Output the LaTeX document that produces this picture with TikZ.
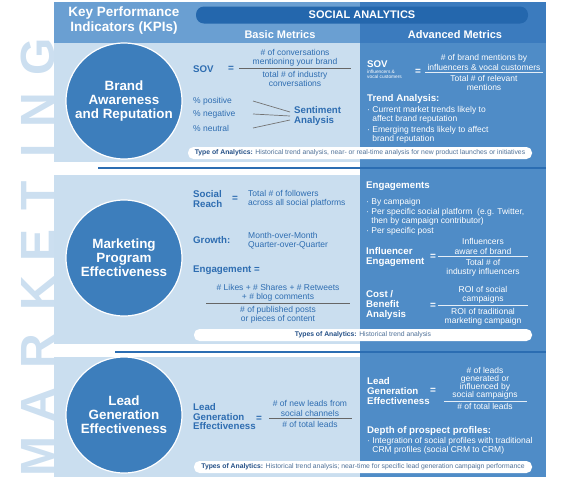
\documentclass[tikz,border=0pt]{standalone}
\usepackage{fontspec}
\setmainfont{Liberation Sans}
\usepackage{xcolor}
\usepackage{tikz}
\usetikzlibrary{positioning}

\definecolor{hdrlight}{HTML}{6A9FD2}
\definecolor{hdrdark}{HTML}{3B7BBE}
\definecolor{barblue}{HTML}{2467AD}
\definecolor{rowlight}{HTML}{CADEEF}
\definecolor{coldark}{HTML}{4F8CC7}
\definecolor{circblue}{HTML}{3D7EBC}
\definecolor{txtblue}{HTML}{2E6DB1}
\definecolor{ltrblue}{HTML}{CCDFF0}
\definecolor{sepblue}{HTML}{2B6DB2}
\definecolor{ftlabel}{HTML}{234F86}
\definecolor{fttext}{HTML}{4F7198}

\begin{document}
\begin{tikzpicture}[x=1pt, y=-1pt,
          every node/.style={inner sep=0pt},
          kpi/.style={circle, fill=circblue, draw=white, line width=1.2pt, minimum size=116pt, text=white, align=center, font=\bfseries\fontsize{13.4}{14}\selectfont},
          hdr/.style={text=white, align=center, font=\bfseries\fontsize{11}{13}\selectfont},
          blab/.style={anchor=west, align=left, text=txtblue, font=\bfseries\fontsize{9.7}{9.5}\selectfont},
          btxt/.style={text=txtblue, align=center, font=\fontsize{8.5}{9.3}\selectfont},
          alab/.style={blab, text=white},
          atxt/.style={btxt, text=white},
          eqs/.style={text=txtblue, font=\bfseries\fontsize{10}{10}\selectfont},
          aeqs/.style={eqs, text=white},
          fbar/.style={fill=black!60, minimum height=0.9pt},
          afbar/.style={fbar, fill=white!85!coldark},
          footbox/.style={fill=white, rounded corners=5.5pt, minimum height=12pt, text=fttext, font=\fontsize{6.8}{7}\selectfont},
          fanline/.style={draw=black!55, line width=0.7pt},
          sepline/.style={draw=sepblue, line width=1.4pt},
          bigletter/.style={rotate=90, text=ltrblue, font=\bfseries\fontsize{48}{48}\selectfont},
        ]
          \useasboundingbox (0,0) rectangle (571,480);

          %% MARKETING down the left edge
          \foreach \ltr/\ypos in {M/457, A/405, R/351, K/293, E/245, T/196, I/151, N/110, G/57}
            \node[bigletter] (ltr-\ltr) at (38,\ypos) {\ltr};

          %% background panels
          \fill[hdrlight] (54,2) rectangle (360,43);
          \fill[hdrdark]  (360,2) rectangle (546,43);
          \fill[rowlight] (54,43)  rectangle (360,162);
          \fill[rowlight] (54,175) rectangle (360,344);
          \fill[rowlight] (54,357) rectangle (360,477);
          \fill[coldark]  (360,43) rectangle (546,477);
          \draw[sepline] (98,168)  -- (546,168);
          \draw[sepline] (115,352) -- (546,352);

          %% header
          \node[hdr, fill=barblue, rounded corners=8pt, minimum width=332pt, minimum height=17pt] (social) at (362,15) {SOCIAL ANALYTICS};
          \node[hdr, font=\bfseries\fontsize{13.5}{15}\selectfont] (kpis) at (124,21) {Key Performance\\Indicators (KPIs)};
          \node[hdr] (basic)    at (280,35) {Basic Metrics};
          \node[hdr] (advanced) at (455,35) {Advanced Metrics};

          %% KPI circles
          \node[kpi] (brand)     at (124,101) {Brand\\Awareness\\and Reputation};
          \node[kpi] (marketing) at (124,258) {Marketing\\Program\\Effectiveness};
          \node[kpi] (leadgen)   at (124,415) {Lead\\Generation\\Effectiveness};

          %% row 1 -- basic
          \node[blab] (sov)    at (193,69) {SOV};
          \node[eqs]  (sov-eq) at (231,69) {=};
          \node[fbar, minimum width=112pt] (sov-bar) at (295,68) {};
          \node[btxt, above=1pt of sov-bar] (sov-num) {\# of conversations\\mentioning your brand};
          \node[btxt, below=2pt of sov-bar] (sov-den) {total \# of industry\\conversations};
          \node[btxt, anchor=west] (pos) at (193,101) {\% positive};
          \node[btxt, anchor=west] (neg) at (193,114) {\% negative};
          \node[btxt, anchor=west] (neu) at (193,128) {\% neutral};
          \node[blab] (senti) at (294,116) {Sentiment\\Analysis};
          \coordinate (fan) at (253,0);
          \draw[fanline] (pos.east -| fan) -- ([xshift=-4pt,yshift=4pt]senti.west);
          \draw[fanline] (neg.east -| fan) -- ([xshift=-4pt]senti.west);
          \draw[fanline] (neu.east -| fan) -- ([xshift=-4pt,yshift=-4pt]senti.west);
          \node[footbox, minimum width=344pt] (foot1) at (360,153) {\textcolor{ftlabel}{\bfseries Type of Analytics:} Historical trend analysis, near- or real-time analysis for new product launches or initiatives};

          %% row 1 -- advanced
          \node[alab] (asov) at (367,64) {SOV};
          \node[atxt, anchor=north west, align=left, font=\fontsize{4.8}{5}\selectfont] (asov-sub) at (367,70) {influencers \&\\vocal customers};
          \node[aeqs] (asov-eq) at (418,72) {=};
          \node[afbar, minimum width=118pt] (asov-bar) at (484,72) {};
          \node[atxt, above=1pt of asov-bar] (asov-num) {\# of brand mentions by\\influencers \& vocal customers};
          \node[atxt, below=2pt of asov-bar] (asov-den) {Total \# of relevant\\mentions};
          \node[alab] (trend) at (367,99) {Trend Analysis:};
          \node[atxt, anchor=north west, align=left] (trend-a) at (367,106) {· Current market trends likely to\\\phantom{· }affect brand reputation};
          \node[atxt, anchor=north west, align=left] (trend-b) at (367,126) {· Emerging trends likely to affect\\\phantom{· }brand reputation};

          %% row 2 -- basic
          \node[blab] (reach)    at (193,199) {Social\\Reach};
          \node[eqs]  (reach-eq) at (235,199) {=};
          \node[btxt, anchor=west, align=left] (reach-def) at (248,199) {Total \# of followers\\across all social platforms};
          \node[blab] (growth) at (193,240) {Growth:};
          \node[btxt, anchor=west, align=left] (growth-def) at (248,241) {Month-over-Month\\Quarter-over-Quarter};
          \node[blab] (engage) at (193,270) {Engagement =};
          \node[fbar, minimum width=144pt] (engage-bar) at (278,303) {};
          \node[btxt, above=1pt of engage-bar] (engage-num) {\# Likes + \# Shares + \# Retweets\\+ \# blog comments};
          \node[btxt, below=2pt of engage-bar] (engage-den) {\# of published posts\\or pieces of content};
          \node[footbox, minimum width=338pt] (foot2) at (363,335) {\textcolor{ftlabel}{\bfseries Types of Analytics:} Historical trend analysis};

          %% row 2 -- advanced
          \node[alab] (engs) at (366,186) {Engagements};
          \node[atxt, anchor=north west, align=left, font=\fontsize{8.5}{9.7}\selectfont] (engs-list) at (366,198) {· By campaign\\· Per specific social platform~ (e.g. Twitter,\\\phantom{· }then by campaign contributor)\\· Per specific post};
          \node[alab] (infl)    at (366,257) {Influencer\\Engagement};
          \node[aeqs] (infl-eq) at (433,257) {=};
          \node[afbar, minimum width=90pt] (infl-bar) at (483,256) {};
          \node[atxt, above=1pt of infl-bar] (infl-num) {Influencers\\aware of brand};
          \node[atxt, below=2pt of infl-bar] (infl-den) {Total \# of\\industry influencers};
          \node[alab, font=\bfseries\fontsize{9.7}{10}\selectfont] (cost) at (366,305) {Cost /\\Benefit\\Analysis};
          \node[aeqs] (cost-eq) at (433,306) {=};
          \node[afbar, minimum width=90pt] (cost-bar) at (483,305) {};
          \node[atxt, above=1pt of cost-bar] (cost-num) {ROI of social\\campaigns};
          \node[atxt, below=2pt of cost-bar] (cost-den) {ROI of traditional\\marketing campaign};

          %% row 3 -- basic
          \node[blab] (lge)    at (193,417) {Lead\\Generation\\Effectiveness};
          \node[eqs]  (lge-eq) at (259,419) {=};
          \node[fbar, minimum width=83pt] (lge-bar) at (310,418) {};
          \node[btxt, above=1pt of lge-bar] (lge-num) {\# of new leads from\\social channels};
          \node[btxt, below=2pt of lge-bar] (lge-den) {\# of total leads};
          \node[footbox, minimum width=338pt] (foot3) at (363,467) {\textcolor{ftlabel}{\bfseries Types of Analytics:} Historical trend analysis; near-time for specific lead generation campaign performance};

          %% row 3 -- advanced
          \node[alab, font=\bfseries\fontsize{9.7}{10}\selectfont] (alge) at (367,391) {Lead\\Generation\\Effectiveness};
          \node[aeqs] (alge-eq) at (433,391) {=};
          \node[afbar, minimum width=83pt] (alge-bar) at (485,401) {};
          \node[atxt, above=1pt of alge-bar, font=\fontsize{8.5}{8}\selectfont] (alge-num) {\# of leads\\generated or\\influenced by\\social campaigns};
          \node[atxt, below=1.5pt of alge-bar] (alge-den) {\# of total leads};
          \node[alab] (depth) at (367,431) {Depth of prospect profiles:};
          \node[atxt, anchor=north west, align=left] (depth-list) at (367,437) {· Integration of social profiles with traditional\\\phantom{· }CRM profiles (social CRM to CRM)};
        \end{tikzpicture}
\end{document}
